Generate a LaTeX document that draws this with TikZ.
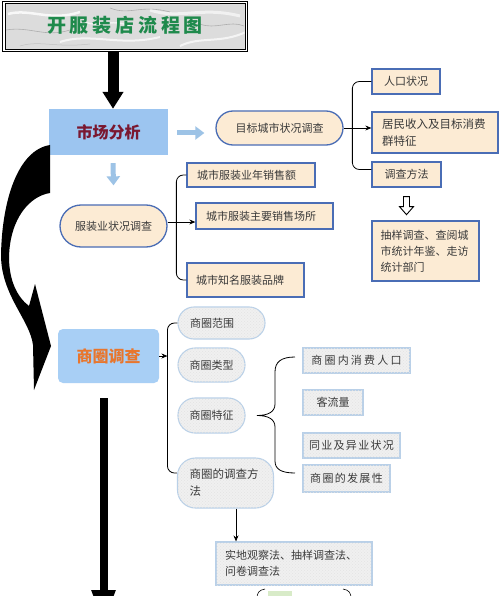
\documentclass[tikz,border=0pt]{standalone}
\usepackage{fontspec}
\newfontfamily\cjk{Noto Sans CJK SC}
\newfontfamily\cjkwide[LetterSpace=20]{Noto Sans CJK SC}
\newfontfamily\cjkmid[LetterSpace=12]{Noto Sans CJK SC}
\usetikzlibrary{arrows.meta,calc,patterns}
\definecolor{beige}{HTML}{FCEBD4}
\definecolor{bblue}{HTML}{4A6DB5}
\definecolor{gfill}{HTML}{F0F0F0}
\definecolor{gblue}{HTML}{B9D0E8}
\definecolor{txt}{HTML}{3A3A3A}
\definecolor{lb}{HTML}{9DC3E6}
\definecolor{mktfill}{HTML}{9CC5F0}
\definecolor{sqfill}{HTML}{A8CFF5}
\definecolor{darkred}{HTML}{7A1830}
\definecolor{orangetxt}{HTML}{E8762D}
\definecolor{titlegreen}{HTML}{1F8A4C}
\definecolor{marble}{HTML}{DCDCDC}
\definecolor{lgreen}{HTML}{D8EBC8}
\begin{document}
\begin{tikzpicture}[x=1pt,y=-1pt,
  base/.style={font=\cjk\fontsize{11}{16}\selectfont, text=txt, inner sep=0pt, align=center},
  bbox/.style={base, draw=bblue, line width=1.3pt, fill=beige},
  gbox/.style={base, draw=gblue, line width=1.1pt, fill=gfill, postaction={pattern=crosshatch dots, pattern color=gray!22}},
  sz/.style 2 args={minimum width=#1, minimum height=#2},
  lft/.style={align=left, text width=#1},
  wide/.style={font=\cjkwide\fontsize{11}{16}\selectfont},
  mid/.style={font=\cjkmid\fontsize{11}{16}\selectfont},
  lbarrow/.style={draw=lb, line width=5pt, -{Triangle[length=9pt,width=13pt]}},
  conn/.style={draw=black, line width=0.8pt},
  connarr/.style={conn, -{Stealth[length=6pt,width=5pt]}},
  bigtext/.style={font=\cjk\bfseries\fontsize{16}{16}\selectfont, inner sep=0pt},
]
\useasboundingbox (0,0) rectangle (500,596);
\clip (0,0) rectangle (500,596);
\fill[white] (0,0) rectangle (500,596);

% ---------- title ----------
\node[draw, line width=1.2pt, fill=white, sz={245pt}{50pt}, inner sep=0pt] (title) at (125,26.5) {};
\begin{scope}
\path[draw, line width=0.8pt, fill=marble] ([shift={(3,3)}]title.north west) rectangle ([shift={(-3,-3)}]title.south east);
\clip ([shift={(3.5,3.5)}]title.north west) rectangle ([shift={(-3.5,-3.5)}]title.south east);
\draw[white,line width=2.5pt,opacity=.8] (8,14) .. controls (30,8) and (50,22) .. (80,12);
\draw[white,line width=2pt,opacity=.7] (60,42) .. controls (90,32) and (120,47) .. (160,37);
\draw[white,line width=3pt,opacity=.6] (150,10) .. controls (180,20) and (200,6) .. (240,16);
\draw[white,line width=2pt,opacity=.7] (180,46) .. controls (200,36) and (220,44) .. (246,32);
\draw[white,line width=1.5pt,opacity=.6] (85,22) .. controls (100,28) and (110,18) .. (130,26);
\draw[gray,line width=.6pt,opacity=.5] (6,30) .. controls (30,26) and (45,38) .. (70,30);
\draw[gray,line width=.6pt,opacity=.5] (110,8) .. controls (130,16) and (140,4) .. (170,12);
\draw[gray,line width=.6pt,opacity=.5] (200,24) .. controls (215,30) and (230,20) .. (244,26);
\draw[gray!70,line width=.5pt,opacity=.5] (20,46) .. controls (40,40) and (55,48) .. (90,44);
\end{scope}
\node[font=\cjkwide\bfseries\fontsize{19}{19}\selectfont, text=titlegreen, inner sep=0pt] (ttext) at (125,25) {开服装店流程图};

% ---------- market analysis ----------
\node[fill=mktfill, sz={119pt}{46pt}, bigtext, text=darkred] (mkt) at (108.5,132) {市场分析};
\draw[line width=11pt, -{Triangle[length=17pt,width=20pt]}] ([xshift=-12pt]title.south) -- ([xshift=4.5pt]mkt.north);

\node[bbox, rounded corners=17pt, sz={127pt}{34pt}] (tgt) at (279.5,128) {目标城市状况调查};
\draw[lbarrow] ($(mkt.east)+(9,1)$) -- ($(mkt.east -| tgt.west)+(-11,1)$);

\node[bbox, sz={68pt}{25pt}] (rk) at (406,81.5) {人口状况};
\node[bbox, sz={126pt}{41pt}, lft=106pt, font=\cjk\fontsize{11.5}{17}\selectfont] (jm) at (435,132.5) {居民收入及目标消费\\群特征};
\node[bbox, sz={69pt}{25pt}] (dcff) at (406.5,174.5) {调查方法};
\draw[conn, rounded corners=7pt] (rk.west) -- ++(-19,0) |- ([yshift=5pt]dcff.west);
\draw[connarr] (tgt.east) -- (tgt.east -| jm.west);

\draw[line width=0.9pt, fill=white] (dcff.south) ++(-3,9) -- ++(0,10) -- ++(-4,0) -- ++(7,8) -- ++(7,-8) -- ++(-4,0) -- ++(0,-10) -- cycle;
\node[bbox, sz={107pt}{60pt}, lft=90pt] (cy) at (425.5,251) {抽样调查、查阅城\\市统计年鉴、走访\\统计部门};

% ---------- clothing industry ----------
\node[bbox, rounded corners=21pt, sz={107pt}{42pt}] (fzy) at (113.5,226) {服装业状况调查};
\draw[lbarrow] ([xshift=4.5pt,yshift=-8pt]mkt.south) -- ([yshift=19pt]fzy.north);

\node[bbox, sz={128pt}{24pt}, lft=108pt] (s1) at (251,175) {城市服装业年销售额};
\node[bbox, sz={137pt}{26pt}, lft=117pt] (s2) at (264.5,216) {城市服装主要销售场所};
\node[bbox, sz={117pt}{34pt}, lft=99pt] (s3) at (245.5,280) {城市知名服装品牌};
\draw[conn, rounded corners=7pt] (s1.west) -- ++(-10,0) |- (s3.west);
\draw[connarr] ([yshift=4pt]fzy.east) -- ([yshift=4pt]fzy.east -| s2.west);

% ---------- big curved arrow ----------
\fill[black] (50,145) .. controls (18,150) and (2,200) .. (1,255)
  .. controls (1,295) and (30,320) .. (33,345) -- (34,390) -- (51,346) -- (35,284) -- (29,306)
  .. controls (17,297) and (9,280) .. (9,257) .. controls (10,218) and (30,196) .. (50,193) -- cycle;

% ---------- trade area ----------
\node[fill=sqfill, rounded corners=5pt, sz={101pt}{54pt}, bigtext, text=orangetxt] (sq) at (108.5,356) {商圈调查};
\coordinate (botend) at (103.5,625);
\draw[line width=8pt, -{Triangle[length=35pt,width=22pt]}] ([xshift=-5pt,yshift=-15pt]sq.south) -- (botend);

\node[gbox, rounded corners=16pt, sz={87pt}{32pt}, lft=63pt] (r1) at (221.5,323) {商圈范围};
\node[gbox, rounded corners=17pt, sz={67pt}{34pt}] (r2) at (211.5,365) {商圈类型};
\node[gbox, rounded corners=17pt, sz={67pt}{35pt}] (r3) at (211.5,415.5) {商圈特征};
\node[gbox, rounded corners=18pt, sz={96pt}{50pt}, lft=72pt, font=\cjk\fontsize{11.5}{17}\selectfont] (r4) at (225.5,483) {商圈的调查方\\法};
\coordinate (brk) at ([xshift=-10pt]r1.west);
\draw[conn, rounded corners=7pt] (r1.west) -- (brk) |- ([yshift=10pt]r4.west);
\draw[connarr] (sq.east) -- (sq.east -| brk);

% brace
\draw[conn] (295,357) .. controls (281,357) and (275,362) .. (275,372) -- (275,404)
  .. controls (275,412) and (268,415.5) .. (257,415.5)
  .. controls (268,415.5) and (275,419) .. (275,427) -- (275,461)
  .. controls (275,469) and (281,473) .. (295,473);

\node[gbox, wide, sz={107pt}{25pt}] (q1) at (356.5,360.5) {商圈内消费人口};
\node[gbox, sz={60pt}{25pt}] (q2) at (333,402.5) {客流量};
\node[gbox, mid, sz={97pt}{25pt}] (q3) at (351.5,445.5) {同业及异业状况};
\node[gbox, mid, sz={87pt}{27pt}] (q4) at (346.5,478.5) {商圈的发展性};

\node[gbox, sz={156pt}{43pt}, lft=138pt] (sd) at (294,563.5) {实地观察法、抽样调查法、\\问卷调查法};
\draw[connarr] ([xshift=10.5pt]r4.south) -- ([xshift=10.5pt]r4.south |- sd.north);

% partial element at bottom edge
\fill[lgreen] (268,591) rectangle (292,600);
\draw[conn, line width=0.6pt] (265,589) .. controls (259,590) and (257,593) .. (257,598);
\draw[conn, line width=0.6pt] (343,589) .. controls (349,590) and (351,593) .. (351,598);
\end{tikzpicture}
\end{document}
